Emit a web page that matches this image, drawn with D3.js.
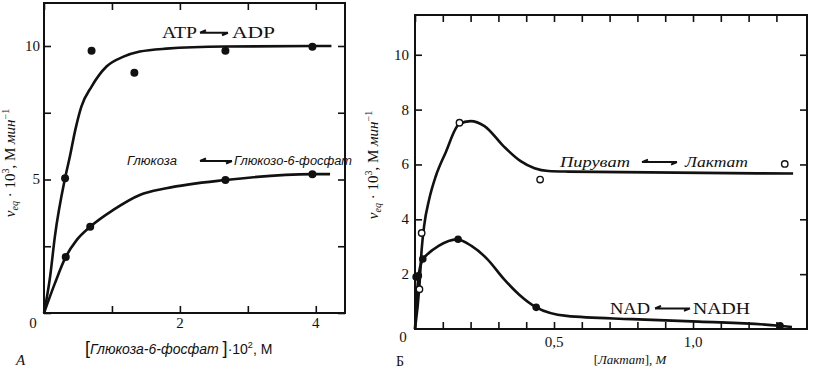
<!DOCTYPE html>
<html>
<head>
<meta charset="utf-8">
<script src="https://cdn.jsdelivr.net/npm/d3@7"></script>
<style>
  body { margin: 0; background: #fff; }
  svg { display: block; }
  text { fill: #111; }
</style>
</head>
<body>
<div id="chart"></div>
<script>
// Panel A data: ATP -> ADP and glucose <- glucose-6-phosphate
const atpPoints = [[0.31, 5.05], [0.70, 9.82], [1.33, 9.0], [2.67, 9.82], [3.95, 9.97]];
const atpCurve = [[0, 0], [0.09, 1.36], [0.16, 2.86], [0.31, 5.05], [0.38, 5.85], [0.46, 6.85],
                  [0.55, 7.73], [0.70, 8.48], [0.92, 9.23], [1.17, 9.6], [1.41, 9.79],
                  [1.80, 9.9], [2.67, 9.98], [3.95, 10.0], [4.23, 10.0]];
const glcPoints = [[0.32, 2.1], [0.68, 3.23], [2.67, 4.98], [3.95, 5.2]];
const glcCurve = [[0, 0], [0.16, 1.11], [0.32, 2.1], [0.48, 2.73], [0.68, 3.23], [1.02, 3.86],
                  [1.41, 4.42], [1.80, 4.67], [2.67, 4.98], [3.95, 5.2], [4.21, 5.2]];

// Panel B data: pyruvate <- lactate (open) and NAD -> NADH (filled)
const pyrPoints = [[0.016, 1.45], [0.024, 3.5], [0.16, 7.52], [0.45, 5.45], [1.33, 6.02]];
const pyrCurve = [[0, 0], [0.016, 1.58], [0.024, 2.9], [0.033, 3.77], [0.051, 4.73], [0.075, 5.58],
                  [0.11, 6.43], [0.158, 7.46], [0.2, 7.58], [0.25, 7.4], [0.32, 6.65], [0.38, 6.12],
                  [0.43, 5.86], [0.48, 5.76], [0.55, 5.74], [1.36, 5.67]];
const nadPoints = [[0.004, 1.9], [0.012, 1.94], [0.028, 2.55], [0.155, 3.27], [0.436, 0.79], [1.313, 0.12]];
const nadCurve = [[0, 0], [0.006, 1.1], [0.012, 1.88], [0.028, 2.55], [0.039, 2.67], [0.085, 3.03],
                  [0.15, 3.27], [0.203, 3.03], [0.26, 2.55], [0.32, 1.82], [0.375, 1.25], [0.436, 0.79],
                  [0.545, 0.48], [0.78, 0.36], [1.02, 0.27], [1.31, 0.12], [1.356, 0.07]];

const xTicksA = [0, 1, 2, 3, 4];
const xLabelsA = [2, 4];
const yTicksA = [0, 2.5, 5, 7.5, 10];
const yLabelsA = [5, 10];
const xTicksB = d3.range(0, 14).map(i => i / 10);
const xLabelsB = [0.5, 1.0];
const yTicksB = [2, 4, 6, 8, 10];

const W = 817, H = 369;
const svg = d3.select("#chart").append("svg")
    .attr("width", W).attr("height", H);

const serif = "'Liberation Serif', 'DejaVu Serif', serif";
const sans = "'Liberation Sans', 'DejaVu Sans', sans-serif";

const xA = d3.scaleLinear().domain([0, 4.43]).range([44, 345]);
const yA = d3.scaleLinear().domain([0, 11.61]).range([313, 3]);
const xB = d3.scaleLinear().domain([0, 1.41]).range([415, 807]);
const yB = d3.scaleLinear().domain([0, 11.45]).range([329, 15]);

const line = (x, y) => d3.line().x(d => x(d[0])).y(d => y(d[1])).curve(d3.curveMonotoneX);

function frame(x, y, xt, yt) {
    const g = svg.append("g");
    const [x0, x1] = x.range(), [y0, y1] = y.range();
    g.append("rect").attr("x", x0).attr("y", y1).attr("width", x1 - x0).attr("height", y0 - y1)
        .attr("fill", "none").attr("stroke", "#111").attr("stroke-width", 2);
    const axes = [
        [d3.axisBottom(x).tickValues(xt), `translate(0,${y0})`],
        [d3.axisTop(x).tickValues(xt), `translate(0,${y1})`],
        [d3.axisLeft(y).tickValues(yt), `translate(${x0},0)`],
        [d3.axisRight(y).tickValues(yt), `translate(${x1},0)`]
    ];
    axes.forEach(([ax, tr]) => {
        const a = g.append("g").attr("transform", tr)
            .call(ax.tickSize(-7).tickFormat(""));
        a.select(".domain").remove();
        a.selectAll("line").attr("stroke", "#111").attr("stroke-width", 1.6);
    });
    return g;
}

function reaction(g, left, right, xl, xa0, xa1, xr, y, font, size, style, wl, wr) {
    g.append("text").attr("x", xl).attr("y", y).attr("text-anchor", "end")
        .attr("font-family", font).attr("font-size", size).attr("font-style", style)
        .attr("textLength", wl).attr("lengthAdjust", "spacingAndGlyphs").text(left);
    g.append("text").attr("x", xr).attr("y", y)
        .attr("font-family", font).attr("font-size", size).attr("font-style", style)
        .attr("textLength", wr).attr("lengthAdjust", "spacingAndGlyphs").text(right);
    const ym = y - size * 0.33;
    g.append("path")
        .attr("d", `M${xa0},${ym} L${xa1},${ym} M${xa0},${ym} l6,-2.5 M${xa1},${ym} l-6,2.5`)
        .attr("stroke", "#111").attr("stroke-width", 2).attr("fill", "none");
}

function yTitle(cx, cy) {
    const t = svg.append("text").attr("transform", `translate(${cx},${cy}) rotate(-90)`)
        .attr("text-anchor", "middle").attr("font-family", serif).attr("font-size", 15);
    t.append("tspan").attr("font-style", "italic").text("v");
    t.append("tspan").attr("font-style", "italic").attr("font-size", 10).attr("dy", 3).text("eq");
    t.append("tspan").attr("dy", -3).text(" · 10");
    t.append("tspan").attr("font-size", 10).attr("dy", -6).text("3");
    t.append("tspan").attr("dy", 6).text(",   M  ");
    t.append("tspan").attr("font-style", "italic").text("мин");
    t.append("tspan").attr("font-size", 10).attr("dy", -6).text("−1");
}

// ---------- Panel A ----------
const gA = frame(xA, yA, xTicksA, yTicksA);

gA.append("path").datum(atpCurve).attr("d", line(xA, yA))
    .attr("fill", "none").attr("stroke", "#111").attr("stroke-width", 2.6);
gA.append("path").datum(glcCurve).attr("d", line(xA, yA))
    .attr("fill", "none").attr("stroke", "#111").attr("stroke-width", 2.6);
gA.selectAll(".pa").data(atpPoints.concat(glcPoints)).enter().append("circle")
    .attr("cx", d => xA(d[0])).attr("cy", d => yA(d[1])).attr("r", 4).attr("fill", "#111");

gA.selectAll(".xla").data(xLabelsA).enter().append("text")
    .attr("x", d => xA(d)).attr("y", 328).attr("text-anchor", "middle")
    .attr("font-family", serif).attr("font-size", 15).text(d => d);
gA.selectAll(".yla").data(yLabelsA).enter().append("text")
    .attr("x", 40).attr("y", d => yA(d) + 5).attr("text-anchor", "end")
    .attr("font-family", serif).attr("font-size", 15).text(d => d);
gA.append("text").attr("x", 33).attr("y", 328).attr("text-anchor", "middle")
    .attr("font-family", serif).attr("font-size", 15).text("0");

reaction(gA, "ATP", "ADP", 197, 200, 228, 232, 38, serif, 16, "normal", 35, 43);
reaction(gA, "Глюкоза", "Глюкозо-6-фосфат", 177, 200, 232, 234, 165, sans, 12, "italic", 50, 118);

const xtA = gA.append("text").attr("x", 85).attr("y", 354)
    .attr("font-family", sans).attr("font-size", 14);
xtA.append("tspan").attr("font-size", 18).text("[");
xtA.append("tspan").attr("font-style", "italic").text("Глюкоза-6-фосфат ");
xtA.append("tspan").attr("font-size", 18).text("]");
xtA.append("tspan").text("·10");
xtA.append("tspan").attr("font-size", 9).attr("dy", -6).text("2");
xtA.append("tspan").attr("dy", 6).text(", M");
svg.append("text").attr("x", 16).attr("y", 365).attr("font-family", serif)
    .attr("font-style", "italic").attr("font-size", 15).text("А");
yTitle(15, 163);

// ---------- Panel B ----------
const gB = frame(xB, yB, xTicksB, yTicksB);

gB.append("path").datum(pyrCurve).attr("d", line(xB, yB))
    .attr("fill", "none").attr("stroke", "#111").attr("stroke-width", 2.6);
gB.append("path").datum(nadCurve).attr("d", line(xB, yB))
    .attr("fill", "none").attr("stroke", "#111").attr("stroke-width", 2.6);
gB.selectAll(".pn").data(nadPoints).enter().append("circle")
    .attr("cx", d => xB(d[0])).attr("cy", d => yB(d[1])).attr("r", 3.8).attr("fill", "#111");
gB.selectAll(".pp").data(pyrPoints).enter().append("circle")
    .attr("cx", d => xB(d[0])).attr("cy", d => yB(d[1])).attr("r", 3.2)
    .attr("fill", "#fff").attr("stroke", "#111").attr("stroke-width", 1.4);

gB.selectAll(".xlb").data(xLabelsB).enter().append("text")
    .attr("x", d => xB(d)).attr("y", 347).attr("text-anchor", "middle")
    .attr("font-family", serif).attr("font-size", 15).text(d => d.toFixed(1).replace(".", ","));
gB.selectAll(".ylb").data(yTicksB).enter().append("text")
    .attr("x", 409).attr("y", d => yB(d) + 5).attr("text-anchor", "end")
    .attr("font-family", serif).attr("font-size", 15).text(d => d);
gB.append("text").attr("x", 403).attr("y", 342).attr("text-anchor", "middle")
    .attr("font-family", serif).attr("font-size", 15).text("0");

reaction(gB, "Пируват", "Лактат", 630, 642, 677, 685, 167, serif, 15, "italic", 70, 63);
reaction(gB, "NAD", "NADH", 650, 655, 690, 693, 314, serif, 17, "normal", 40, 57);

const xtB = gB.append("text").attr("x", 630).attr("y", 364).attr("text-anchor", "middle")
    .attr("font-family", serif).attr("font-size", 13);
xtB.append("tspan").text("[");
xtB.append("tspan").attr("font-style", "italic").text("Лактат");
xtB.append("tspan").text("],  ");
xtB.append("tspan").attr("font-style", "italic").text("M");
svg.append("text").attr("x", 396).attr("y", 366).attr("font-family", serif)
    .attr("font-size", 14).text("Б");
yTitle(378, 165);
</script>
</body>
</html>
